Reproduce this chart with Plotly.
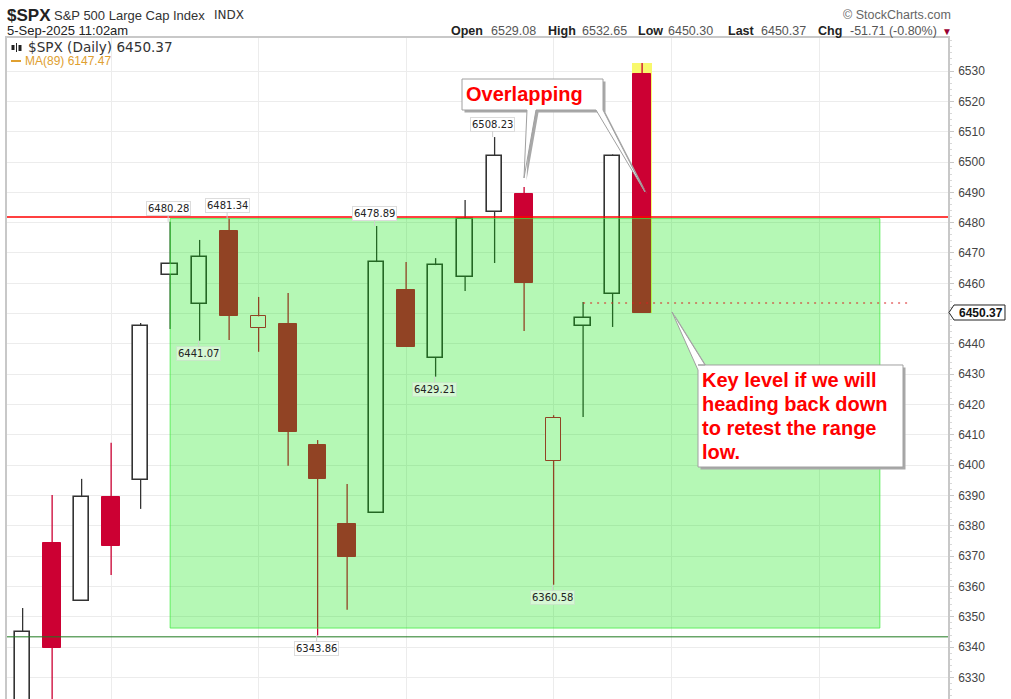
import plotly.graph_objects as go

# daily bars (first two opens/lows are cut off by the panel)
open_ = [6310, 6374.4, 6355.3, 6389.5, 6395.2, 6462.7, 6453.2, 6477.2, 6445.3, 6446.6, 6406.7,
         6380.6, 6384.3, 6457.8, 6435.4, 6462.1, 6483.5, 6489.4, 6401.4, 6445.9, 6456.5, 6529.08]
high = [6352.9, 6390.2, 6395.5, 6407.4, 6446.9, 6480.28, 6474.3, 6481.34, 6455.5, 6456.8, 6408.3,
        6393.8, 6478.89, 6467, 6468.3, 6487.5, 6508.23, 6491.8, 6416.5, 6453.8, 6502.5, 6532.65]
low = [6300, 6310, 6355.3, 6363.8, 6385.6, 6444.9, 6441.07, 6441.3, 6437.4, 6399.8, 6343.86,
       6352.3, 6384.3, 6439, 6429.21, 6457.5, 6466.7, 6444.3, 6360.58, 6415.9, 6445.6, 6450.30]
close = [6345, 6339.8, 6389.5, 6373.4, 6445.9, 6466.4, 6468.7, 6449.3, 6449.1, 6411, 6395.5,
         6369.8, 6467, 6439, 6466, 6481.2, 6502, 6460.1, 6415.6, 6448.6, 6502, 6450.37]
days = list(range(len(close)))

labels_above = [6480.28, 6481.34, 6478.89, 6508.23]
labels_below = [6441.07, 6429.21, 6360.58, 6343.86]
y_ticks = list(range(6330, 6540, 10))
# 6450 sits under the last price tag
y_text = ["" if v == 6450 else str(v) for v in y_ticks]
x_grid = [3, 8, 13, 18, 22, 27]
key_text = ["Key level if we will", "heading back down", "to retest the range", "low."]

range_top = 6481.34
range_low = 6346.3
range_start = 5
range_end = 29.06
resistance = 6481.9
support = 6343.4
key_level = 6453.5

RED = "#cc0033"
BLACK = "#333333"

# stockcharts colouring: hollow when close > open, red when below previous close
colors = []
fills = []
widths = []
line_w = []
for i in days:
    down = i > 0 and close[i] < close[i - 1]
    c = RED if down else BLACK
    hollow = close[i] >= open_[i]
    colors.append(c)
    fills.append("white" if hollow else c)
    widths.append(0.53 if hollow else 0.6)
    line_w.append(1.6 if (hollow and c == BLACK) else 1)

def wicks(color):
    xs, ys = [], []
    for i in days:
        if colors[i] != color:
            continue
        top = max(open_[i], close[i])
        bot = min(open_[i], close[i])
        xs += [i, i, None, i, i, None]
        ys += [high[i], top, None, bot, low[i], None]
    return xs, ys

fig = go.Figure()
# yellow highlight behind the last bar
fig.add_trace(go.Bar(x=[days[-1]], y=[high[-1] - low[-1]], base=[low[-1]], width=[0.66],
                     marker=dict(color="#f8f86c", line=dict(width=0)), showlegend=False))
fig.add_trace(go.Bar(x=days, y=[abs(o - c) for o, c in zip(open_, close)],
                     base=[min(o, c) for o, c in zip(open_, close)], width=widths,
                     marker=dict(color=fills, line=dict(color=colors, width=line_w)),
                     showlegend=False))
for col in [BLACK, RED]:
    wx, wy = wicks(col)
    fig.add_trace(go.Scatter(x=wx, y=wy, mode="lines", line=dict(color=col, width=1.3),
                             showlegend=False, hoverinfo="skip"))

# pixel helpers for the page furniture
def px(x):
    return (x - 7) / 941

def py(y):
    return 1 - (y - 38) / 661

def path(points):
    return "M " + " L ".join(f"{px(x):.5f},{py(y):.5f}" for x, y in points) + " Z"

def callout(points):
    moved = [(x + 2.5, y + 2.5) for x, y in points]
    return [
        dict(type="path", xref="paper", yref="paper", path=path(moved),
             fillcolor="#a8a8a8", line=dict(width=0), layer="above"),
        dict(type="path", xref="paper", yref="paper", path=path(points),
             fillcolor="white", line=dict(color="#a0a0a0", width=1), layer="above"),
    ]

shapes = [
    dict(type="rect", xref="x", yref="y", x0=range_start, x1=range_end, y0=range_low, y1=range_top,
         fillcolor="rgba(0,230,0,0.29)", line=dict(color="rgba(60,235,60,0.75)", width=1), layer="above"),
    dict(type="line", xref="paper", yref="y", x0=0, x1=1, y0=resistance, y1=resistance,
         line=dict(color="#ff0000", width=1.5), layer="above"),
    dict(type="line", xref="paper", yref="y", x0=0, x1=1, y0=support, y1=support,
         line=dict(color="#1f7a1f", width=1), layer="above"),
    dict(type="line", xref="x", yref="y", x0=19, x1=30.03, y0=key_level, y1=key_level,
         line=dict(color="#d92020", width=1, dash="2px,5px"), layer="above"),
    # white patch behind the legend
    dict(type="rect", xref="paper", yref="paper", x0=px(8), x1=px(111), y0=py(68), y1=py(39),
         fillcolor="white", line=dict(width=0), layer="above"),
    dict(type="line", xref="paper", yref="paper", x0=px(11), x1=px(21), y0=py(61), y1=py(61),
         line=dict(color="#e0a030", width=2), layer="above"),
    dict(type="rect", xref="paper", yref="paper", x0=px(11.5), x1=px(14.5), y0=py(50), y1=py(45),
         fillcolor="#222222", line=dict(width=0), layer="above"),
    dict(type="rect", xref="paper", yref="paper", x0=px(16), x1=px(17), y0=py(52), y1=py(43),
         fillcolor="#222222", line=dict(width=0), layer="above"),
    dict(type="rect", xref="paper", yref="paper", x0=px(18.5), x1=px(21.5), y0=py(51), y1=py(45),
         fillcolor="#222222", line=dict(width=0), layer="above"),
    # last price tag
    dict(type="path", xref="paper", yref="paper",
         path=path([(949, 312.5), (954, 305), (1005, 305), (1005, 320), (954, 320)]),
         fillcolor="white", line=dict(color="#222222", width=1), layer="above"),
]
shapes += callout([(462, 79), (603, 79), (603, 110), (645, 192), (596, 110), (536, 110),
                   (524, 178), (527, 110), (462, 110)])
shapes += callout([(698, 365), (903, 365), (903, 467), (698, 467), (698, 370), (672, 312), (705, 365)])

def text(x, y, s, size=11, color="#222222", family="Liberation Sans", anchor="left", bold=False):
    return dict(xref="paper", yref="paper", x=px(x), y=py(y), text=f"<b>{s}</b>" if bold else s,
                showarrow=False, xanchor=anchor, yanchor="middle", align="left", borderpad=0,
                font=dict(family=family, size=size, color=color))

annotations = [
    text(6, 15, "$SPX", 17, "#222222", bold=True),
    text(53, 15, "S&amp;P 500 Large Cap Index", 13, "#333333"),
    text(213, 15, "INDX", 12, "#333333", "DejaVu Sans"),
    text(6, 31, "5-Sep-2025 11:02am", 13, "#222222"),
    text(952, 15, "© StockCharts.com", 12.5, "#666666", anchor="right"),
    text(27, 47, "$SPX (Daily) 6450.37", 13.6, "#333333", "DejaVu Sans"),
    text(24, 61, "MA(89) 6147.47", 12, "#e0a030"),
    text(450, 31, "Open", 12.5, "#222222", bold=True),
    text(490, 31, "6529.08", 12.5, "#555555"),
    text(547, 31, "High", 12.5, "#222222", bold=True),
    text(581, 31, "6532.65", 12.5, "#555555"),
    text(637, 31, "Low", 12.5, "#222222", bold=True),
    text(667, 31, "6450.30", 12.5, "#555555"),
    text(727, 31, "Last", 12.5, "#222222", bold=True),
    text(760, 31, "6450.37", 12.5, "#555555"),
    text(817, 31, "Chg", 12.5, "#222222", bold=True),
    text(849, 31, "-51.71 (-0.80%)", 12.5, "#555555"),
    text(941, 32, "▼", 10, "#990033"),
    text(465, 94, "Overlapping", 20, "#ff0000", bold=True),
    text(1004, 312.5, "6450.37", 12, "#111111", anchor="right", bold=True),
]
for n, line in enumerate(key_text):
    annotations.append(text(701, 380 + 24 * n, line, 20, "#ff0000", bold=True))

def low_label(v):
    return range_low < v < range_top

# swing high / low tags hang off the bars
for v in labels_above:
    i = high.index(v)
    annotations.append(dict(x=i, y=v, text=f"{v:.2f}", showarrow=True, ax=0, ay=-13, arrowhead=0,
                            xshift=-2, arrowcolor="#cfcfcf", arrowwidth=1, bgcolor="white", bordercolor="#dcdcdc",
                            borderwidth=1, borderpad=1, font=dict(family="DejaVu Sans", size=10, color="#222222")))
for v in labels_below:
    i = low.index(v)
    annotations.append(dict(x=i, y=v, text=f"{v:.2f}", showarrow=True, ax=0, ay=13, arrowhead=0,
                            xshift=-1, arrowcolor="#cfcfcf", arrowwidth=1,
                            bgcolor="#d6f8d4" if low_label(v) else "white", bordercolor="#c8e8c8" if low_label(v) else "#dcdcdc",
                            borderwidth=1, borderpad=1, font=dict(family="DejaVu Sans", size=10, color="#222222")))

fig.update_layout(
    width=1011, height=699,
    margin=dict(l=7, r=63, t=38, b=0, autoexpand=False),
    paper_bgcolor="white", plot_bgcolor="white",
    barmode="overlay", bargap=0, showlegend=False,
    shapes=shapes, annotations=annotations,
    xaxis=dict(range=[-0.53, 31.37], tickvals=x_grid, showticklabels=False, ticks="",
               gridcolor="#ececec", gridwidth=1.2, zeroline=False,
               showline=True, linecolor="#c8c8c8", linewidth=1.5, mirror=True),
    yaxis=dict(range=[6322.9, 6540.9], side="right", tickvals=y_ticks, ticktext=y_text,
               gridcolor="#ececec", gridwidth=1.2, zeroline=False,
               showline=True, linecolor="#c8c8c8", linewidth=1.5, mirror=True,
               ticks="outside", ticklen=4, tickcolor="#c8c8c8", ticklabelstandoff=2,
               minor=dict(dtick=2, ticks="outside", ticklen=2, tickcolor="#d8d8d8"),
               tickfont=dict(family="Liberation Sans", size=12, color="#444444")),
)

fig.write_html("out.html", config=dict(displayModeBar=False),
               post_script="document.body.style.margin='0';document.body.style.overflow='hidden';")
